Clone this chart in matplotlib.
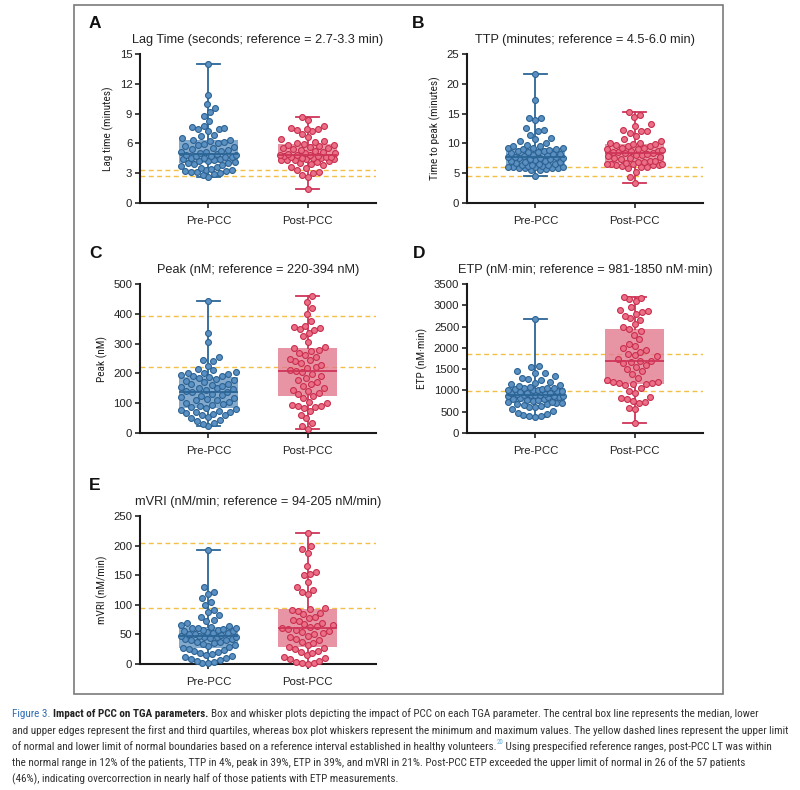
import numpy as np
import matplotlib
matplotlib.use("Agg")
import matplotlib.pyplot as plt
from matplotlib import font_manager
from matplotlib.font_manager import FontProperties
from matplotlib.patches import Rectangle

# ---------------- data ----------------
groups = ["Pre-PCC", "Post-PCC"]

lag_pre = [2.65, 2.8, 2.9, 3.0, 3.1, 3.1, 3.2, 3.2, 3.3, 3.3, 3.4, 3.5, 3.6, 3.7, 3.8, 3.9,
           4.0,
           4.05, 4.1, 4.2, 4.25, 4.3, 4.4, 4.45, 4.5, 4.55, 4.6, 4.65, 4.7, 4.75, 4.8, 4.85,
           4.9,
           5.0, 5.1, 5.15, 5.2, 5.3, 5.4, 5.5, 5.6, 5.7, 5.8, 5.9, 6.0, 6.1, 6.2, 6.3,
           6.35,
           6.5, 6.7, 6.8, 7.2, 7.4, 7.5, 7.6, 7.7, 7.8, 8.3, 8.8, 9.2, 9.6, 10.0, 10.9, 14.0]
lag_post = [1.38, 2.65, 2.8, 3.0, 3.15, 3.3, 3.5, 3.6, 3.8, 3.9, 4.0, 4.1, 4.2, 4.3,
            4.33,
            4.36, 4.4, 4.44, 4.48, 4.52, 4.56, 4.6, 4.64, 4.68, 4.72, 4.76, 4.8, 4.83,
            4.85,
            4.9, 5.0, 5.05, 5.1, 5.2, 5.3, 5.4, 5.5, 5.55, 5.6, 5.7, 5.8, 5.85,
            5.9,
            6.0, 6.1, 6.2, 6.4, 6.6, 6.9, 7.2, 7.3, 7.4, 7.5, 7.6, 7.8, 8.4, 8.65]

ttp_pre = [4.6, 5.5, 5.6, 5.7, 5.8, 5.8, 5.9, 5.9, 6.0, 6.0, 6.1, 6.1, 6.2, 6.2, 6.3, 6.3,
           6.4,
           6.5, 6.6, 6.7, 6.8, 6.9, 7.0, 7.1, 7.2, 7.3, 7.4, 7.5, 7.5, 7.6, 7.7, 7.7,
           7.8,
           7.9, 8.0, 8.1, 8.2, 8.3, 8.4, 8.5, 8.6, 8.7, 8.8, 8.9, 9.0, 9.1, 9.2, 9.2,
           9.3,
           9.5, 9.6, 9.8, 10.0, 10.4, 10.7, 10.9, 11.4, 12.0, 12.3, 12.6, 14.0, 14.2, 14.3, 17.3, 21.7]
ttp_post = [3.3, 4.4, 5.2, 5.8, 6.0, 6.1, 6.2, 6.3, 6.4, 6.4, 6.5, 6.5, 6.6, 6.6,
            6.7,
            6.8, 6.9, 7.0, 7.1, 7.3, 7.5, 7.6, 7.8, 7.9, 8.0, 8.1, 8.3, 8.4,
            8.45,
            8.5, 8.6, 8.7, 8.8, 8.9, 9.0, 9.1, 9.2, 9.3, 9.5, 9.6, 9.8, 9.9,
            9.95,
            10.0, 10.1, 10.4, 10.8, 11.3, 11.8, 12.0, 12.0, 12.3, 13.0, 13.2, 14.5, 14.8, 15.3]

peak_pre = [25, 30, 35, 40, 45, 50, 55, 60, 62, 65, 68, 70, 72, 75, 78, 80,
            83,
            88, 92, 95, 98, 100, 105, 110, 112, 115, 118, 120, 125, 128, 132, 136,
            139,
            142, 145, 148, 150, 152, 155, 158, 160, 163, 166, 170, 175, 178, 182, 185,
            188,
            190, 192, 195, 198, 200, 202, 205, 210, 215, 225, 240, 245, 255, 305, 335, 443]
peak_post = [13, 25, 35, 50, 60, 75, 85, 88, 90, 92, 95, 100, 105, 118,
             124,
             130, 135, 140, 145, 150, 158, 165, 170, 178, 185, 192, 198, 205,
             209,
             212, 218, 222, 228, 235, 240, 245, 250, 255, 262, 270, 275, 280,
             284,
             290, 305, 325, 335, 345, 350, 352, 355, 360, 375, 400, 420, 440, 461]

etp_pre = [380, 390, 400, 420, 450, 480, 520, 560, 600, 620, 640, 660, 680, 690, 700, 710,
           723,
           735, 750, 765, 780, 795, 810, 820, 835, 850, 860, 870, 880, 890, 895, 900,
           902,
           910, 920, 930, 940, 950, 960, 975, 990, 1000, 1010, 1020, 1030, 1040, 1050, 1060,
           1066,
           1080, 1100, 1120, 1150, 1180, 1200, 1250, 1280, 1300, 1350, 1400, 1420, 1450, 1550, 1580, 2680]
etp_post = [226, 560, 590, 700, 720, 760, 790, 820, 850, 950, 980, 1050, 1120, 1140,
            1151,
            1170, 1180, 1190, 1200, 1250, 1300, 1380, 1450, 1500, 1550, 1600, 1640, 1670,
            1687,
            1700, 1750, 1800, 1830, 1850, 1900, 1950, 2000, 2050, 2100, 2200, 2300, 2400,
            2442,
            2480, 2550, 2650, 2700, 2750, 2800, 2850, 2870, 2900, 2950, 3100, 3150, 3170, 3203]

mvri_pre = [1, 2, 3, 5, 6, 8, 10, 12, 14, 15, 17, 18, 20, 22, 24, 25,
            26.5,
            28, 30, 32, 34, 35, 37, 38, 40, 41, 42, 43, 44, 45, 46, 46,
            47,
            48, 49, 50, 51, 52, 53, 54, 55, 56, 57, 58, 59, 60, 61, 61,
            62,
            64, 66, 70, 72, 75, 80, 83, 87, 92, 100, 105, 112, 118, 122, 130, 192]
mvri_post = [0, 1, 2, 3, 5, 8, 10, 12, 15, 18, 20, 22, 25, 27,
             29,
             32, 35, 38, 40, 42, 45, 48, 50, 52, 54, 56, 58, 59,
             60,
             62, 64, 66, 68, 70, 72, 75, 78, 80, 84, 86, 89, 91,
             93,
             94, 118, 122, 125, 130, 138, 150, 152, 155, 165, 188, 195, 200, 221]

titles = ["Lag Time (seconds; reference = 2.7-3.3 min)",
          "TTP (minutes; reference = 4.5-6.0 min)",
          "Peak (nM; reference = 220-394 nM)",
          "ETP (nM\u00b7min; reference = 981-1850 nM\u00b7min)",
          "mVRI (nM/min; reference = 94-205 nM/min)"]
ylabels = ["Lag time (minutes)", "Time to peak (minutes)", "Peak (nM)",
           "ETP (nM\u00b7min)", "mVRI (nM/min)"]
letters = ["A", "B", "C", "D", "E"]
ref_lines = [(2.7, 3.3), (4.5, 6.0), (220, 394), (981, 1850), (94, 205)]
ymaxes = [15, 25, 500, 3500, 250]
ysteps = [3, 5, 100, 500, 50]
datasets = [(lag_pre, lag_post), (ttp_pre, ttp_post), (peak_pre, peak_post),
            (etp_pre, etp_post), (mvri_pre, mvri_post)]

caption_lines = [
    [("Figure 3. ", "#2f6db3", "normal"), ("Impact of PCC on TGA parameters. ", "#222222", "bold"),
     ("Box and whisker plots depicting the impact of PCC on each TGA parameter. The central box line represents the median, lower", "#333333", "normal")],
    [("and upper edges represent the first and third quartiles, whereas box plot whiskers represent the minimum and maximum values. The yellow dashed lines represent the upper limit", "#333333", "normal")],
    [("of normal and lower limit of normal boundaries based on a reference interval established in healthy volunteers.", "#333333", "normal"),
     ("20", "#5aa9d6", "sup"),
     (" Using prespecified reference ranges, post-PCC LT was within", "#333333", "normal")],
    [("the normal range in 12% of the patients, TTP in 4%, peak in 39%, ETP in 39%, and mVRI in 21%. Post-PCC ETP exceeded the upper limit of normal in 26 of the 57 patients", "#333333", "normal")],
    [("(46%), indicating overcorrection in nearly half of those patients with ETP measurements.", "#333333", "normal")],
]

# ---------------- fonts ----------------
plt.rcParams["font.family"] = ["Liberation Sans", "DejaVu Sans"]

def find_condensed(bold):
    prefs = ["liberationsansnarrow", "robotocondensed", "dejavusanscondensed",
             "opensans_condensed", "opensanscondensed", "notosanscondensed", "condensed", "narrow"]
    cands = []
    for f in font_manager.fontManager.ttflist:
        fn = f.fname.lower().replace("-", "").replace(" ", "")
        if not ("condensed" in fn or "narrow" in fn):
            continue
        if "italic" in fn or "oblique" in fn:
            continue
        isbold = ("bold" in fn) and ("semibold" not in fn)
        if isbold != bold:
            continue
        if any(w in fn for w in ["light", "thin", "black", "medium", "semibold", "extra"]):
            continue
        rank = next((i for i, p in enumerate(prefs) if p in fn), len(prefs))
        cands.append((rank, f.fname))
    if not cands:
        return None
    cands.sort()
    return cands[0][1]

cond_reg = find_condensed(False)
cond_bold = find_condensed(True)

def fp(size, bold=False, condensed=True):
    if condensed:
        path = cond_bold if bold else cond_reg
        if path is not None:
            return FontProperties(fname=path, size=size)
    return FontProperties(family=["Liberation Sans", "DejaVu Sans"], size=size,
                          weight="bold" if bold else "normal")

BLUE_FACE, BLUE_EDGE, BLUE_BOX, BLUE_LINE = "#5b90c2", "#2c6393", "#6494c1", "#2b6596"
RED_FACE, RED_EDGE, RED_BOX, RED_LINE = "#ea6f87", "#c8304f", "#e27b8f", "#cf3558"
YELLOW = "#f3bf45"

W, H = 800, 790
fig = plt.figure(figsize=(W / 100, H / 100), dpi=100)

rects = [(140, 54, 376, 203), (467, 54, 703, 203),
         (140, 284, 376, 433), (467, 284, 703, 433),
         (140, 516, 376, 664)]
letter_pos = [(89, 23), (412, 23), (89, 254), (413, 254), (89, 485)]

def swarm(values, ymax, h_px, x_px_per_unit, d, dy, maxw):
    """Beeswarm layout (elliptical spacing d wide, dy tall), limited to +/- maxw pixels."""
    y = np.asarray(values, float) * h_px / ymax * (d / dy)
    order = np.argsort(y, kind="stable")
    placed = []
    xs = np.zeros(len(y))
    grid = np.linspace(-maxw, maxw, 49)
    for i in order:
        yi = y[i]
        nb = [(px, py) for px, py in placed if abs(py - yi) < d]
        cands = [0.0]
        for px, py in nb:
            dx = np.sqrt(max(d * d - (py - yi) ** 2, 0.0))
            cands += [px + dx, px - dx]
        cands = [c for c in cands if abs(c) <= maxw + 1e-9]
        cands = sorted(cands, key=lambda c: (abs(c), c))
        chosen = None
        for c in cands:
            if all((c - px) ** 2 + (yi - py) ** 2 >= d * d - 1e-6 for px, py in nb):
                chosen = c
                break
        if chosen is None:
            best, bestd = 0.0, -1.0
            for c in sorted(grid, key=abs):
                md = min(np.hypot(c - px, yi - py) for px, py in nb)
                if md > bestd + 1e-9:
                    best, bestd = c, md
            chosen = best
        xs[i] = chosen
        placed.append((chosen, yi))
    return xs / x_px_per_unit

XLIM = (-0.69, 1.69)
for k in range(5):
    l, t, r, b = rects[k]
    ax = fig.add_axes([l / W, 1 - b / H, (r - l) / W, (b - t) / H])
    pre, post = datasets[k]
    ymax = ymaxes[k]
    ax.set_xlim(*XLIM)
    ax.set_ylim(0, ymax)
    x_ppu = (r - l) / (XLIM[1] - XLIM[0])
    h_px = b - t
    for lo_hi in ref_lines[k]:
        ax.axhline(lo_hi, color=YELLOW, lw=1.0, ls=(0, (3.5, 2.5)), zorder=1)
    for gi, (vals, face, edge, boxc, linec) in enumerate([
            (pre, BLUE_FACE, BLUE_EDGE, BLUE_BOX, BLUE_LINE),
            (post, RED_FACE, RED_EDGE, RED_BOX, RED_LINE)]):
        bp = ax.boxplot([vals], positions=[gi], widths=0.6, whis=(0, 100),
                        patch_artist=True, showfliers=False, capwidths=[0.24],
                        boxprops=dict(facecolor=boxc, edgecolor="none", alpha=0.8),
                        whiskerprops=dict(color=linec, lw=1.3),
                        capprops=dict(color=linec, lw=1.3),
                        medianprops=dict(color=linec, lw=1.3), zorder=2)
        for m in bp["medians"]:
            m.set_zorder(5)
        for wsk in bp["whiskers"] + bp["caps"]:
            wsk.set_zorder(2.5)
        xs = swarm(vals, ymax, h_px, x_ppu, 6.0, 9.0, 0.28 * x_ppu)
        ax.scatter(gi + xs, vals, s=18, facecolor=face, edgecolor=edge,
                   linewidth=0.8, zorder=4, clip_on=False)
    ax.set_xticks([0, 1])
    ax.set_xticklabels(groups, fontsize=8.2, color="#222222")
    ax.set_yticks(np.arange(0, ymax + 1e-9, ysteps[k]))
    ax.tick_params(axis="both", labelsize=8.2, length=3.5, width=1.2, colors="#222222", pad=2)
    ax.tick_params(axis="x", pad=6)
    for s in ["top", "right"]:
        ax.spines[s].set_visible(False)
    for s in ["left", "bottom"]:
        ax.spines[s].set_linewidth(1.5)
        ax.spines[s].set_color("#1a1a1a")
    ax.set_title(titles[k], fontsize=9.15, pad=8, color="#222222")
    ax.set_ylabel(ylabels[k], fontproperties=fp(8.2), labelpad=4, color="#222222")
    lx, ly = letter_pos[k]
    fig.text(lx / W, 1 - ly / H, letters[k], fontsize=12.5, fontweight="bold",
             ha="left", va="center", color="#111111")

fig.add_artist(Rectangle((74 / W, 1 - 694 / H), (723 - 74) / W, (694 - 5) / H,
                         transform=fig.transFigure, fill=False, edgecolor="#7a7a7a", lw=1.2))

# caption
renderer = fig.canvas.get_renderer()
cap_size = 8.0

def piece_width(txt, bold, size):
    tt = fig.text(0, 0, txt, fontproperties=fp(size, bold))
    w = tt.get_window_extent(renderer).width
    tt.remove()
    return w

w_long = piece_width(caption_lines[1][0][0], False, cap_size)
cap_size = cap_size * 776 / w_long

line_y = [714, 731, 747, 763, 779]
for li, pieces in enumerate(caption_lines):
    x = 12.0
    y = line_y[li]
    for txt, col, style in pieces:
        bold = style == "bold"
        size = cap_size * 0.62 if style == "sup" else cap_size
        yy = y - 4 if style == "sup" else y
        t = fig.text(x / W, 1 - yy / H, txt, fontproperties=fp(size, bold),
                     color=col, ha="left", va="center")
        x += t.get_window_extent(renderer).width

fig.savefig("out.png", dpi=100, facecolor="white")
